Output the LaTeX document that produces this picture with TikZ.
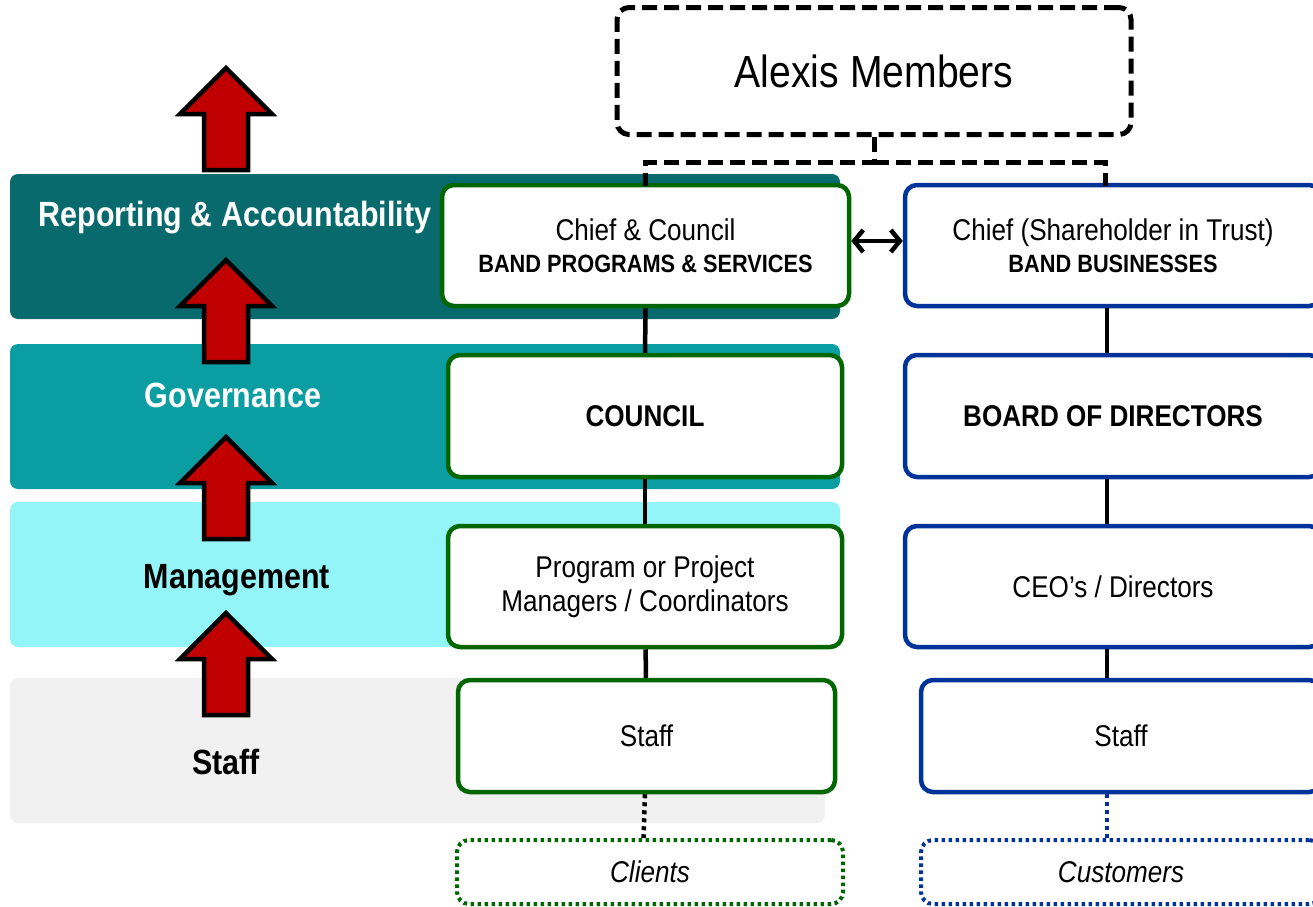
\documentclass[tikz,border=0pt]{standalone}
\usepackage{fontspec}
\setmainfont[FakeStretch=0.87]{Liberation Sans}
\usetikzlibrary{arrows.meta}

\definecolor{repteal}{HTML}{086A6C}
\definecolor{govteal}{HTML}{0A9EA3}
\definecolor{mgmtcyan}{HTML}{94F5F9}
\definecolor{staffgrey}{HTML}{F1F1F1}
\definecolor{progreen}{HTML}{006600}
\definecolor{busblue}{HTML}{003399}
\definecolor{arrowred}{HTML}{C00000}

\tikzset{
  band/.style={rounded corners=8pt},
  bandlabel/.style={font=\fontsize{35}{40}\selectfont\bfseries, inner sep=0pt},
  orgbox/.style={fill=white, line width=4.5pt, rounded corners=12pt, align=center,
    inner sep=0pt, font=\fontsize{30}{34}\selectfont},
  gbox/.style={orgbox, draw=progreen},
  bbox/.style={orgbox, draw=busblue},
  endbox/.style={orgbox, line width=4pt, dash pattern=on 3.5pt off 3.5pt,
    font=\fontsize{30}{34}\selectfont\itshape},
  link/.style={line width=4.5pt},
  dotlink/.style={line width=4.5pt, dash pattern=on 4pt off 4pt},
  dashlink/.style={line width=5pt, dash pattern=on 15pt off 7pt},
  upshape/.style={fill=arrowred, draw=black, line width=4.5pt, line join=miter},
  barb/.tip={Straight Barb[length=9pt,width=22pt,line width=4.5pt]},
}
\newcommand{\subline}{\fontsize{25}{28}\selectfont\bfseries}

\begin{document}
\begin{tikzpicture}[x=1pt,y=1pt,yscale=-1]
\useasboundingbox (0,0) rectangle (1313,906);
\clip (0,0) rectangle (1313,906);

% bands
\fill[band, repteal] (10,174) rectangle (840,319);
\fill[band, govteal] (10,344) rectangle (840,489);
\fill[band, mgmtcyan] (10,502) rectangle (840,647);
\fill[band, staffgrey] (10,678) rectangle (825,823);

% band labels
\node[bandlabel, text=white] (lrep) at (235,218) {Reporting \& Accountability};
\node[bandlabel, text=white] (lgov) at (233,395) {Governance};
\node[bandlabel] (lmgmt) at (237,580) {Management};
\node[bandlabel] (lstaff) at (226,762) {Staff};

% red arrows
\foreach \t in {68,260,437,613}
  \draw[upshape] (226,\t) -- (272,\t+46) -- (248,\t+46) -- (248,\t+102)
    -- (204,\t+102) -- (204,\t+46) -- (180,\t+46) -- cycle;

% members
\node[orgbox, draw=black, line width=5pt, dash pattern=on 15pt off 7pt, font=\fontsize{45}{50}\selectfont,
  minimum width=514pt, minimum height=127pt] (members) at (874,71) {Alexis Members};

% band programs column
\node[gbox, minimum width=407pt, minimum height=121pt] (cc) at (645.5,245.5)
  {Chief \& Council\\[-2pt]{\subline BAND PROGRAMS \& SERVICES}};
\node[gbox, minimum width=394pt, minimum height=122pt] (council) at (645,416)
  {\bfseries COUNCIL};
\node[gbox, minimum width=394pt, minimum height=121pt] (ppm) at (645,586.5)
  {Program or Project\\Managers / Coordinators};
\node[gbox, minimum width=377pt, minimum height=112pt] (gstaff) at (646.5,736) {Staff};
\node[endbox, draw=progreen, minimum width=386pt, minimum height=64pt] (clients) at (650,872) {Clients};

% band businesses column
\node[bbox, minimum width=416pt, minimum height=121pt] (chief) at (1113,245.5)
  {Chief (Shareholder in Trust)\\[-2pt]{\subline BAND BUSINESSES}};
\node[bbox, minimum width=416pt, minimum height=122pt] (board) at (1113,416)
  {\bfseries BOARD OF DIRECTORS};
\node[bbox, minimum width=416pt, minimum height=121pt] (ceo) at (1113,586.5)
  {CEO’s / Directors};
\node[bbox, minimum width=400pt, minimum height=112pt] (bstaff) at (1121,736) {Staff};
\node[endbox, draw=busblue, minimum width=400pt, minimum height=64pt] (cust) at (1121,872) {Customers};

% members links
\draw[dashlink] (members.south) -- ++(0,25) coordinate (split) -| ([yshift=3pt]cc.north);
\draw[dashlink] (split) -| ([xshift=-8pt,yshift=3pt]chief.north);

% left links
\draw[link] (cc) -- (council);
\draw[link] (council) -- (ppm);
\draw[link] (ppm) -- (gstaff);
\draw[dotlink] ([xshift=-1.5pt]gstaff.south) -- ([xshift=-6.5pt]clients.north);

% right links
\draw[link] ([xshift=-6pt]chief.south) -- ([xshift=-6pt]board.north);
\draw[link] ([xshift=-6pt]board.south) -- ([xshift=-6pt]ceo.north);
\draw[link] ([xshift=-6pt]ceo.south) -- ([xshift=-14pt]bstaff.north);
\draw[dotlink, busblue] ([xshift=-14pt]bstaff.south) -- ([xshift=-14pt]cust.north);

% cross link
\draw[link, barb-barb] ([yshift=-4.5pt]cc.east) -- ([yshift=-4.5pt]chief.west);

\end{tikzpicture}
\end{document}
